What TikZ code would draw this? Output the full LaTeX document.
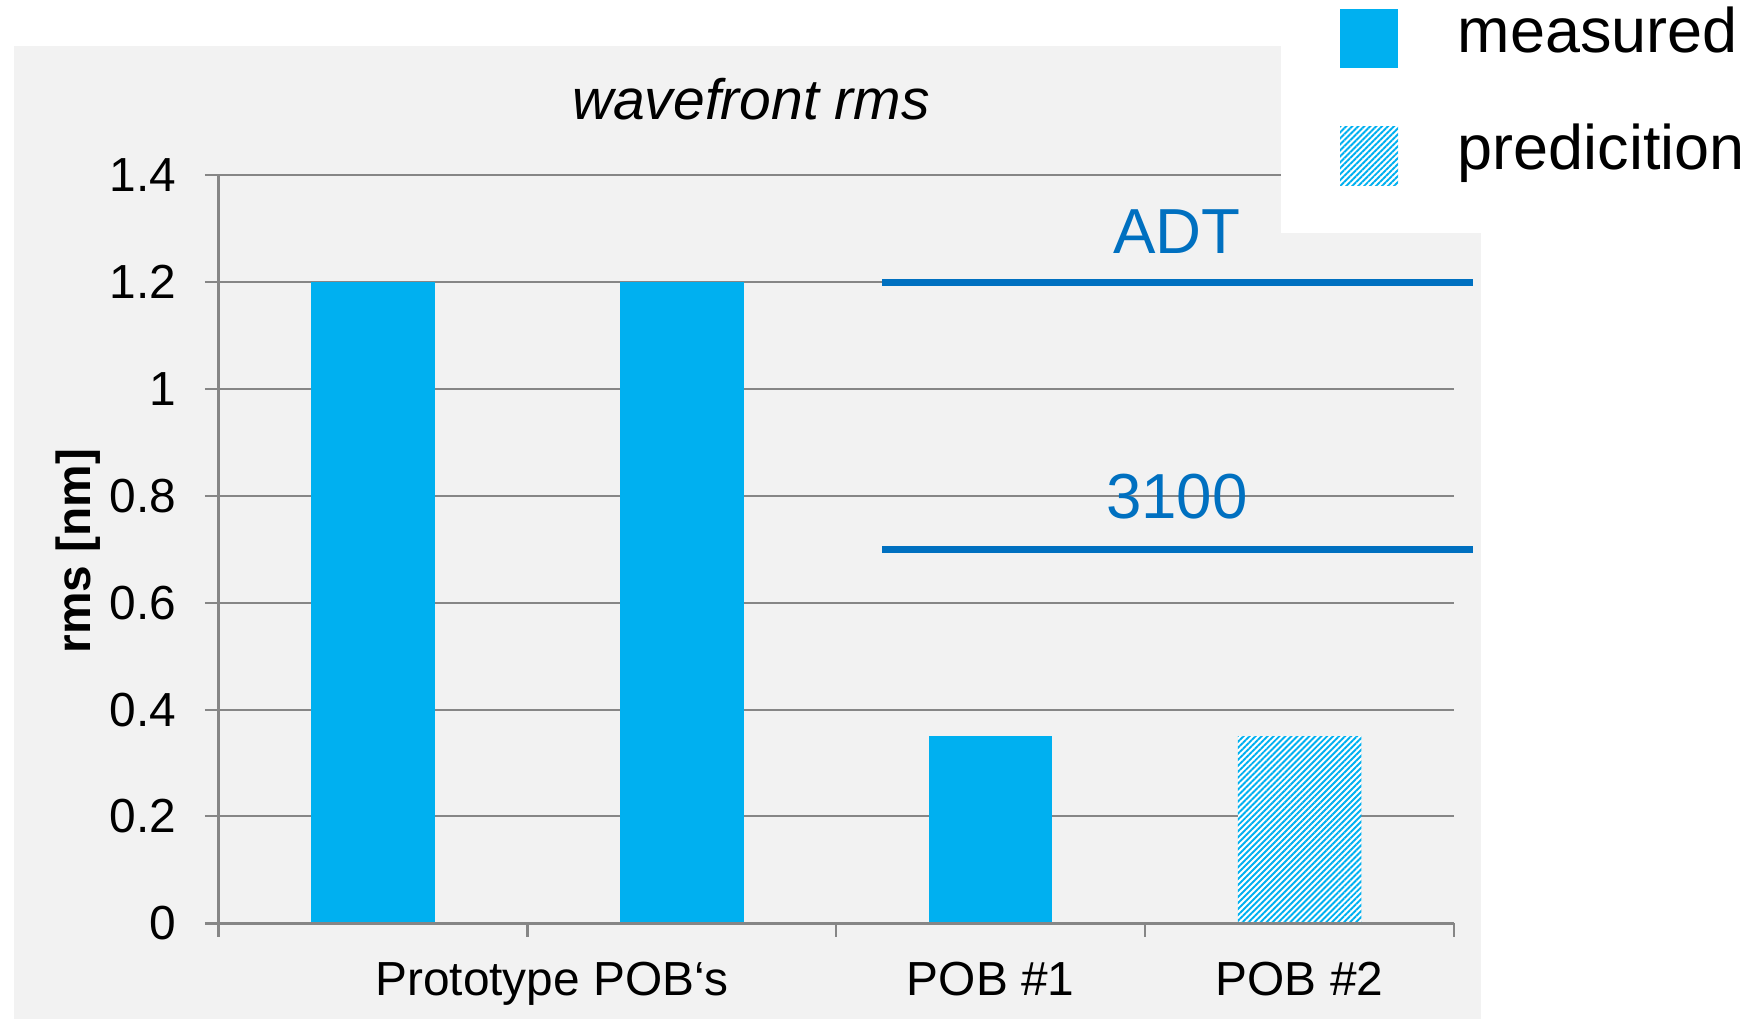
\documentclass[tikz,border=0pt]{standalone}
\usepackage{fontspec}
\setmainfont{Liberation Sans}
\usepackage{tikz}
\usetikzlibrary{patterns.meta}

\definecolor{barblue}{HTML}{00B0F0}
\definecolor{lineblue}{HTML}{0070C0}
\definecolor{chartbg}{HTML}{F2F2F2}
\definecolor{gridgray}{HTML}{868686}

\begin{document}
\begin{tikzpicture}[x=0.01cm, y=-0.01cm,
        gridline/.style={draw=gridgray, line width=0.6pt},
        axisline/.style={draw=gridgray, line width=0.7pt},
        barfill/.style={fill=barblue},
        hatched/.style={fill=white, postaction={pattern={Lines[angle=45, distance=1.2pt, line width=0.55pt]}, pattern color=barblue}},
        ticklabel/.style={font=\fontsize{13.6}{16}\selectfont, inner sep=0pt},
        limitline/.style={draw=lineblue, line width=2pt},
        limitlabel/.style={font=\fontsize{18.1}{21}\selectfont, text=lineblue, inner sep=0pt, anchor=base},
        legendlabel/.style={font=\fontsize{17.9}{21}\selectfont, inner sep=0pt, anchor=base west}]
        \useasboundingbox (0,0) rectangle (1757,1019);
        \fill[chartbg] (14,46) rectangle (1481,1019);

        % chart in data units
        \begin{scope}[shift={(218.5,923.3)}, x=3.087cm, y=5.34cm]
            \foreach \v in {0.2,0.4,0.6,0.8,1.0,1.2,1.4}
                \draw[gridline] (-0.044,\v) -- (4,\v);
            \foreach \v/\txt in {0/0,0.2/0.2,0.4/0.4,0.6/0.6,0.8/0.8,1/1,1.2/1.2,1.4/1.4}
                \node[ticklabel, anchor=east] (ytick\txt) at (-0.134,\v) {\txt};

            \fill[barfill] (0.3,0) rectangle (0.7,1.2);
            \fill[barfill] (1.3,0) rectangle (1.7,1.2);
            \fill[barfill] (2.3,0) rectangle (2.7,0.35);
            \path[hatched] (3.3,0) rectangle (3.7,0.35);

            \draw[axisline] (0,1.4) -- (0,0) -- (4,0);
            \draw[axisline] (-0.044,0) -- (0,0);
            \foreach \c in {0,...,4}
                \draw[axisline] (\c,0) -- (\c,-0.026);

            \node[ticklabel, anchor=base] (proto) at (1.08,-0.136) {Prototype POB‘s};
            \node[ticklabel, anchor=base] (pob1) at (2.5,-0.136) {POB \#1};
            \node[ticklabel, anchor=base] (pob2) at (3.5,-0.136) {POB \#2};

            \draw[limitline] (2.149,1.2) -- (4.061,1.2);
            \draw[limitline] (2.149,0.7) -- (4.061,0.7);
            \node[limitlabel] (adt) at (3.103,1.2534) {ADT};
            \node[limitlabel] (lim3100) at (3.103,0.757) {3100};
        \end{scope}

        \node[anchor=base, inner sep=0pt, font=\itshape\fontsize{16.2}{19}\selectfont] (title) at (751,120) {wavefront rms};
        \node[rotate=90, inner sep=0pt, font=\bfseries\fontsize{13.6}{16}\selectfont] (ylabel) at (78.5,551) {rms [nm]};

        % legend
        \fill[white] (1281,0) rectangle (1757,233);
        \fill[barfill] (1340,9) rectangle (1398,68);
        \path[hatched] (1340,127) rectangle (1398,186);
        \node[legendlabel] (measured) at (1457,53) {measured};
        \node[legendlabel] (prediction) at (1457,170) {predicition};
    \end{tikzpicture}
\end{document}
